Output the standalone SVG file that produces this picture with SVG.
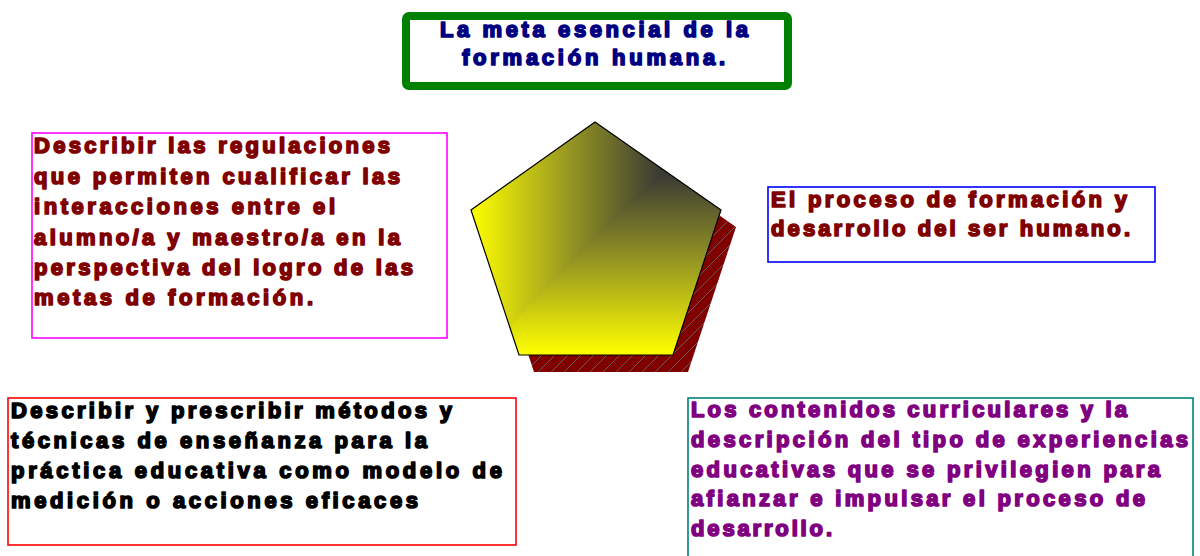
<svg xmlns="http://www.w3.org/2000/svg" width="1200" height="556" viewBox="0 0 1200 556">
<style>
text{font-family:"Liberation Sans",Arial,sans-serif;font-weight:bold;font-size:22px;stroke-width:1.7;stroke-linejoin:round}
.box{fill:#fff;stroke-width:1.6}
.t1{fill:#000080;stroke:#000080;font-size:22px}
.dr{fill:#800000;stroke:#800000}
.bk{fill:#000;stroke:#000}
.pu{fill:#800080;stroke:#800080}
</style>
<defs>
<linearGradient id="gh" gradientUnits="userSpaceOnUse" x1="471" y1="0" x2="660" y2="0">
<stop offset="0" stop-color="#ffff00"/><stop offset="0.5" stop-color="#9a9a22"/><stop offset="1" stop-color="#3a3a34"/>
</linearGradient>
<linearGradient id="gv" gradientUnits="userSpaceOnUse" x1="0" y1="355" x2="0" y2="175">
<stop offset="0" stop-color="#ffff00"/><stop offset="0.5" stop-color="#9a9a22"/><stop offset="1" stop-color="#3a3a34"/>
</linearGradient>
<pattern id="hatch" patternUnits="userSpaceOnUse" width="13" height="13">
<rect width="13" height="13" fill="#800000"/>
<path d="M-1,14 L14,-1" stroke="#6a5a5a" stroke-width="1"/>
</pattern>
<clipPath id="pc"><polygon points="595,122 721,210 673,355 519,355 471,210"/></clipPath>
</defs>

<g id="node-meta">
<rect x="406" y="16" width="382" height="70" rx="3" fill="#fff" stroke="#008000" stroke-width="8"/>
<text class="t1" x="440" y="37" textLength="308" lengthAdjust="spacing">La meta esencial de la</text>
<text class="t1" x="462" y="65" textLength="263" lengthAdjust="spacing">formación humana.</text>
</g>

<g id="node-pentagon">
<polygon points="610,139 736,227 688,372 534,372 486,227" fill="url(#hatch)"/>
<g clip-path="url(#pc)">
<rect x="460" y="110" width="280" height="260" fill="url(#gh)"/>
<polygon points="660,175 800,175 800,420 415,420" fill="url(#gv)"/>
</g>
<polygon points="595,122 721,210 673,355 519,355 471,210" fill="none" stroke="#000" stroke-width="1.2"/>
</g>

<g id="node-regulaciones">
<rect class="box" x="32" y="133" width="415" height="205" stroke="#ff00ff"/>
<text class="dr" x="34" y="153" textLength="356" lengthAdjust="spacing">Describir las regulaciones</text>
<text class="dr" x="34" y="184" textLength="366" lengthAdjust="spacing">que permiten cualificar las</text>
<text class="dr" x="34" y="214" textLength="301" lengthAdjust="spacing">interacciones entre el</text>
<text class="dr" x="34" y="245" textLength="366" lengthAdjust="spacing">alumno/a y maestro/a en la</text>
<text class="dr" x="34" y="275" textLength="379" lengthAdjust="spacing">perspectiva del logro de las</text>
<text class="dr" x="34" y="305" textLength="279" lengthAdjust="spacing">metas de formación.</text>
</g>

<g id="node-proceso">
<rect class="box" x="768" y="187" width="387" height="75" stroke="#0000ff"/>
<text class="dr" x="771" y="207" textLength="356" lengthAdjust="spacing">El proceso de formación y</text>
<text class="dr" x="771" y="236" textLength="359" lengthAdjust="spacing">desarrollo del ser humano.</text>
</g>

<g id="node-metodos">
<rect class="box" x="8" y="398" width="508" height="147" stroke="#ff0000"/>
<text class="bk" x="11" y="418" textLength="441" lengthAdjust="spacing">Describir y prescribir métodos y</text>
<text class="bk" x="11" y="448" textLength="416" lengthAdjust="spacing">técnicas de enseñanza para la</text>
<text class="bk" x="11" y="478" textLength="491" lengthAdjust="spacing">práctica educativa como modelo de</text>
<text class="bk" x="11" y="508" textLength="407" lengthAdjust="spacing">medición o acciones eficaces</text>
</g>

<g id="node-contenidos">
<rect class="box" x="688" y="398" width="505" height="170" stroke="#008080"/>
<text class="pu" x="691" y="417" textLength="436" lengthAdjust="spacing">Los contenidos curriculares y la</text>
<text class="pu" x="691" y="447" textLength="497" lengthAdjust="spacing">descripción del tipo de experiencias</text>
<text class="pu" x="691" y="477" textLength="469" lengthAdjust="spacing">educativas que se privilegien para</text>
<text class="pu" x="691" y="506" textLength="454" lengthAdjust="spacing">afianzar e impulsar el proceso de</text>
<text class="pu" x="691" y="536" textLength="141" lengthAdjust="spacing">desarrollo.</text>
</g>

<g id="connectors"></g>
</svg>
